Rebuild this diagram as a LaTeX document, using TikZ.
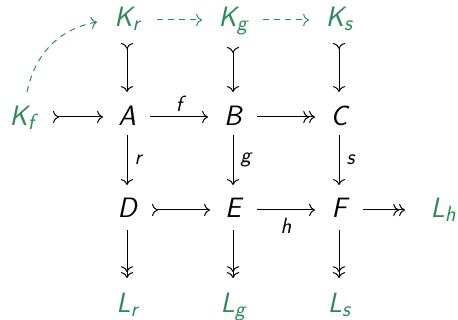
\documentclass[tikz,border=0pt]{standalone}
\usetikzlibrary{arrows.meta,calc}
\definecolor{kgreen}{RGB}{46,139,87}
\newcommand{\ob}[2]{#1\raisebox{-4pt}{\fontsize{22}{25}\selectfont #2}}
\tikzset{
  >={Computer Modern Rightarrow[scale=1.55]},
  obj/.style={inner sep=0pt, anchor=base, font=\fontsize{28}{32}\selectfont\sffamily\itshape},
  grn/.style={text=kgreen},
  lbl/.style={inner sep=0pt, font=\fontsize{22}{25}\selectfont\sffamily\itshape},
  arr/.style={line width=1pt, draw=black},
  plain/.style={arr, ->},
  mono/.style={arr, >->},
  epi/.style={arr, ->>},
  dsh/.style={line width=1pt, draw=kgreen, dash pattern=on 6pt off 5pt, ->},
}
\begin{document}
\begin{tikzpicture}[x=1pt,y=-1pt]
\useasboundingbox (0,0) rectangle (458,320);
% objects
\node[obj,grn] (Kf) at (22,126) {\ob{K}{f}};
\node[obj,grn] (Kr) at (127,27) {\ob{K}{r}};
\node[obj,grn] (Kg) at (233,27) {\ob{K}{g}};
\node[obj,grn] (Ks) at (339,27) {\ob{K}{s}};
\node[obj] (A) at (127,126) {A};
\node[obj] (B) at (233,126) {B};
\node[obj] (C) at (339,126) {C};
\node[obj] (D) at (127,218) {D};
\node[obj] (E) at (233,218) {E};
\node[obj] (F) at (339,218) {F};
\node[obj,grn] (Lh) at (443,218) {\ob{L}{h}};
\node[obj,grn] (Lr) at (127,313) {\ob{L}{r}};
\node[obj,grn] (Lg) at (233,313) {\ob{L}{g}};
\node[obj,grn] (Ls) at (339,313) {\ob{L}{s}};
% horizontal arrows
\draw[mono] ($(Kf.base)+(31,-9)$) -- ($(A.base)+(-24,-9)$);
\draw[plain] ($(A.base)+(23,-9)$) -- node[lbl, anchor=south, yshift=5pt] (lf) {f} ($(B.base)+(-25,-9)$);
\draw[epi] ($(B.base)+(24,-9)$) -- ($(C.base)+(-24,-9)$);
\draw[mono] ($(D.base)+(25,-8)$) -- ($(E.base)+(-23,-8)$);
\draw[plain] ($(E.base)+(24,-8)$) -- node[lbl, anchor=north, yshift=-8pt] (lh) {h} ($(F.base)+(-24,-8)$);
\draw[epi] ($(F.base)+(24,-8)$) -- ($(Lh.base)+(-38,-8)$);
% vertical arrows
\draw[mono] ($(Kr.base)+(0,16)$) -- ($(A.base)+(0,-34)$);
\draw[mono] ($(Kg.base)+(0,20)$) -- ($(B.base)+(0,-34)$);
\draw[mono] ($(Ks.base)+(0,16)$) -- ($(C.base)+(0,-34)$);
\draw[plain] ($(A.base)+(0,9)$) -- node[lbl, anchor=west, xshift=7pt] (lr) {r} ($(D.base)+(0,-33)$);
\draw[plain] ($(B.base)+(0,9)$) -- node[lbl, anchor=west, xshift=7pt] (lg) {g} ($(E.base)+(0,-33)$);
\draw[plain] ($(C.base)+(0,9)$) -- node[lbl, anchor=west, xshift=7pt] (ls) {s} ($(F.base)+(0,-33)$);
\draw[epi] ($(D.base)+(0,12)$) -- ($(Lr.base)+(0,-35)$);
\draw[epi] ($(E.base)+(0,12)$) -- ($(Lg.base)+(0,-35)$);
\draw[epi] ($(F.base)+(0,12)$) -- ($(Ls.base)+(0,-35)$);
% dashed green arrows
\draw[dsh] ($(Kf.base)+(5,-34)$) to[out=78,in=190] ($(Kr.base)+(-30,-5)$);
\draw[dsh] ($(Kr.base)+(30,-7)$) -- ($(Kg.base)+(-31,-7)$);
\draw[dsh] ($(Kg.base)+(30,-7)$) -- ($(Ks.base)+(-30,-7)$);
\end{tikzpicture}
\end{document}
